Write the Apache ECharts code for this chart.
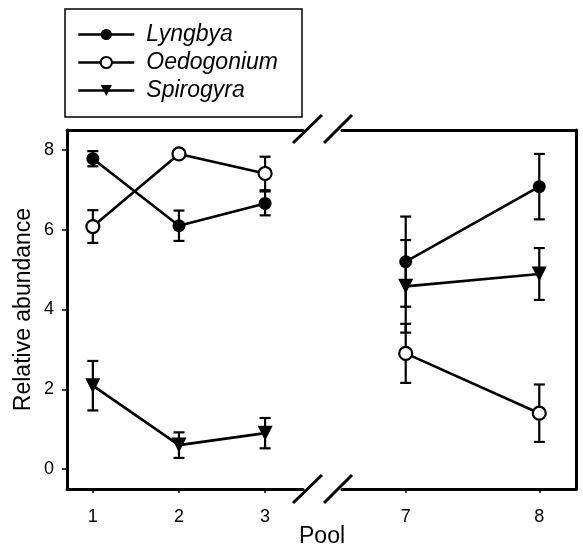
<!DOCTYPE html>
<html>
<head>
<meta charset="utf-8">
<script src="https://cdn.jsdelivr.net/npm/echarts@6/dist/echarts.min.js"></script>
<style>
  html, body { margin: 0; padding: 0; background: #fff; }
  #main { width: 583px; height: 552px; }
</style>
</head>
<body>
<div id="main"></div>
<script>
// pools on the x axis, with a break between 3 and 7
const pools = [1, 2, 3, 7, 8]
const yTicks = [0, 2, 4, 6, 8]

const lyngbya = [7.78, 6.1, 6.66, 5.2, 7.08]
const lyngbyaErr = [0.19, 0.38, 0.3, 1.13, 0.82]
const oedogonium = [6.08, 7.9, 7.41, 2.9, 1.4]
const oedogoniumErr = [0.41, 0, 0.42, 0.74, 0.72]
const spirogyra = [2.09, 0.6, 0.9, 4.58, 4.89]
const spirogyraErr = [0.62, 0.32, 0.38, 1.16, 0.65]

const font = '"Liberation Sans", Arial, sans-serif'
const species = [
  { name: 'Lyngbya', vals: lyngbya, errs: lyngbyaErr, symbol: 'circle', size: 13, fill: '#000', rotate: 0 },
  { name: 'Oedogonium', vals: oedogonium, errs: oedogoniumErr, symbol: 'circle', size: 13, fill: '#fff', rotate: 0 },
  { name: 'Spirogyra', vals: spirogyra, errs: spirogyraErr, symbol: 'triangle', size: 15, fill: '#000', rotate: 180 }
]

// which side of the break a pool belongs to
const side = p => (p < 5 ? 0 : 1)

function errorBars(params, api) {
  const x = api.value(0), y = api.value(1), e = api.value(2)
  if (!e) return
  const top = api.coord([x, y + e])
  const bot = api.coord([x, y - e])
  const w = 5.5
  const st = { stroke: '#000', lineWidth: 2.2 }
  return {
    type: 'group',
    children: [
      { type: 'line', shape: { x1: top[0], y1: top[1], x2: bot[0], y2: bot[1] }, style: st },
      { type: 'line', shape: { x1: top[0] - w, y1: top[1], x2: top[0] + w, y2: top[1] }, style: st },
      { type: 'line', shape: { x1: bot[0] - w, y1: bot[1], x2: bot[0] + w, y2: bot[1] }, style: st }
    ]
  }
}

const lines = []
const bars = []
species.forEach(s => {
  [0, 1].forEach(g => {
    const idx = pools.map((p, i) => i).filter(i => side(pools[i]) === g)
    lines.push({
      name: s.name,
      type: 'line',
      xAxisIndex: g * 2,
      yAxisIndex: g,
      z: 3,
      symbol: s.symbol,
      symbolSize: s.size,
      symbolRotate: s.rotate,
      showAllSymbol: true,
      lineStyle: { color: '#000', width: 2.6 },
      itemStyle: { color: s.fill, borderColor: '#000', borderWidth: s.fill === '#fff' ? 2.2 : 0 },
      data: idx.map(i => [pools[i], s.vals[i]])
    })
    bars.push({
      name: s.name,
      type: 'custom',
      xAxisIndex: g * 2,
      yAxisIndex: g,
      z: 1,
      renderItem: errorBars,
      data: idx.map(i => [pools[i], s.vals[i], s.errs[i]])
    })
  })
})

const frameLine = { show: true, onZero: false, lineStyle: { color: '#000', width: 3 } }
const hidden = { show: false }

function bottomAxis(g, min, max) {
  const ticks = pools.filter(p => side(p) === g)
  return {
    type: 'value', gridIndex: g, position: 'bottom', min: min, max: max,
    axisLine: frameLine,
    axisTick: { show: true, inside: false, length: 4, customValues: ticks, lineStyle: { color: '#000', width: 1.5 } },
    axisLabel: { customValues: ticks, color: '#000', fontSize: 18, fontFamily: font, margin: 19 },
    splitLine: hidden
  }
}
function topAxis(g, min, max) {
  return {
    type: 'value', gridIndex: g, position: 'top', min: min, max: max,
    axisLine: frameLine, axisTick: hidden, axisLabel: hidden, splitLine: hidden
  }
}

const option = {
  backgroundColor: '#fff',
  animation: false,
  grid: [
    { left: 67, top: 130, width: 236, height: 359 },
    { left: 342, top: 130, width: 234, height: 359 }
  ],
  xAxis: [
    bottomAxis(0, 0.70, 3.44),
    topAxis(0, 0.70, 3.44),
    bottomAxis(1, 6.523, 8.275),
    topAxis(1, 6.523, 8.275)
  ],
  yAxis: [
    {
      type: 'value', gridIndex: 0, min: -0.5, max: 8.5,
      name: 'Relative abundance', nameLocation: 'middle', nameGap: 32,
      nameTextStyle: { color: '#000', fontSize: 23, fontFamily: font },
      axisLine: frameLine,
      axisTick: { show: true, length: 5, customValues: yTicks, lineStyle: { color: '#000', width: 1.5 } },
      axisLabel: { customValues: yTicks, color: '#000', fontSize: 18, fontFamily: font, margin: 13 },
      splitLine: hidden
    },
    {
      type: 'value', gridIndex: 1, position: 'right', min: -0.5, max: 8.5,
      axisLine: frameLine, axisTick: hidden, axisLabel: hidden, splitLine: hidden
    }
  ],
  legend: {
    orient: 'vertical',
    left: 65,
    top: 9,
    padding: [14, 24, 15, 12],
    itemWidth: 56,
    itemHeight: 14,
    itemGap: 5,
    borderColor: '#000',
    borderWidth: 1.5,
    borderRadius: 0,
    data: species.map(s => s.name),
    lineStyle: { width: 2.6, color: '#000' },
    textStyle: { color: '#000', fontSize: 23, fontStyle: 'italic', fontFamily: font, padding: [0, 0, 0, 7] }
  },
  graphic: [
    { type: 'line', shape: { x1: 293, y1: 143, x2: 322, y2: 115 }, style: { stroke: '#000', lineWidth: 3 } },
    { type: 'line', shape: { x1: 324, y1: 143, x2: 352, y2: 115 }, style: { stroke: '#000', lineWidth: 3 } },
    { type: 'line', shape: { x1: 293, y1: 503, x2: 322, y2: 475 }, style: { stroke: '#000', lineWidth: 3 } },
    { type: 'line', shape: { x1: 324, y1: 503, x2: 352, y2: 475 }, style: { stroke: '#000', lineWidth: 3 } },
    { type: 'text', left: 299, top: 525, style: { text: 'Pool', fill: '#000', font: '23px ' + font } }
  ],
  series: lines.concat(bars)
}

const chart = echarts.init(document.getElementById('main'))
chart.setOption(option)
window.addEventListener('resize', chart.resize)
</script>
</body>
</html>
